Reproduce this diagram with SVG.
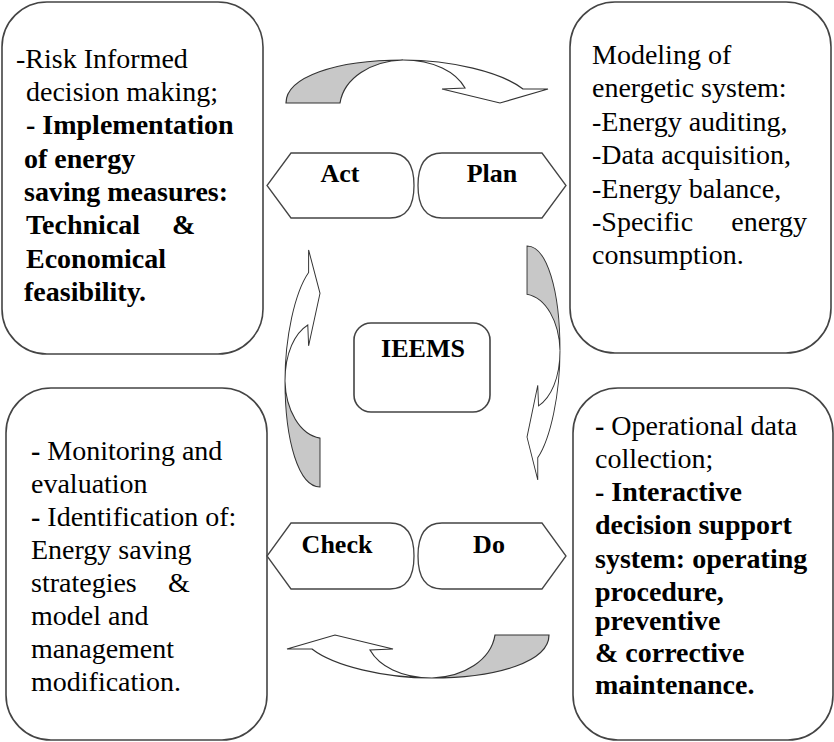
<svg xmlns="http://www.w3.org/2000/svg" xmlns:xlink="http://www.w3.org/1999/xlink" width="834" height="742" viewBox="0 0 834 742">
<style>
.box{fill:#fff;stroke:#444;stroke-width:1.6}
.shape{fill:#fff;stroke:#444;stroke-width:1.3}
.t{font-family:'Liberation Serif','Times New Roman',Times,'DejaVu Serif','Noto Serif',serif;font-size:28px;fill:#000}
.b{font-weight:bold}
.lbl{font-family:'Liberation Serif','Times New Roman',Times,'DejaVu Serif','Noto Serif',serif;font-size:26px;font-weight:bold;fill:#000;text-anchor:middle}
.ag{fill:#c8c8c8;stroke:#333;stroke-width:1.2;vector-effect:non-scaling-stroke}
.aw{fill:#fff;stroke:#333;stroke-width:1.2;vector-effect:non-scaling-stroke}
</style>
<defs>
<path id="gpart" d="M0,43 C0,17 50,0 117,0 C85,1 58,18 54,43 Z"/>
<path id="wpart" d="M117,0 C148,0 170,12 179,28 L156,29 L214,43 L262,29 L237,29 C215,12 165,0 117,0 Z"/>
</defs>
<rect width="834" height="742" fill="#fff"/>

<g id="connectors">
  <g id="arrow-act-plan" transform="translate(286,60)">
    <use xlink:href="#wpart" class="aw"/>
    <use xlink:href="#gpart" class="ag"/>
  </g>
  <g id="arrow-plan-do" transform="matrix(0,0.893,-0.767,0,560,246)">
    <use xlink:href="#wpart" class="aw"/>
    <use xlink:href="#gpart" class="ag"/>
  </g>
  <g id="arrow-do-check" transform="translate(549,678) rotate(180)">
    <use xlink:href="#wpart" class="aw"/>
    <use xlink:href="#gpart" class="ag"/>
  </g>
  <g id="arrow-check-act" transform="matrix(0,-0.905,0.814,0,285,487)">
    <use xlink:href="#wpart" class="aw"/>
    <use xlink:href="#gpart" class="ag"/>
  </g>
</g>

<g id="act-box">
  <rect class="box" x="2" y="2" width="261" height="352" rx="45"/>
  <text class="t" x="16" y="68">-Risk Informed</text>
  <text class="t" x="26" y="101">decision making;</text>
  <text class="t b" x="26" y="134">- Implementation</text>
  <text class="t b" x="24" y="168">of energy</text>
  <text class="t b" x="24" y="201">saving measures:</text>
  <text class="t b" x="26" y="234">Technical</text>
  <text class="t b" x="172" y="234">&amp;</text>
  <text class="t b" x="26" y="268">Economical</text>
  <text class="t b" x="24" y="301">feasibility.</text>
</g>

<g id="plan-box">
  <rect class="box" x="570" y="2" width="261" height="351" rx="45"/>
  <text class="t" x="592" y="64">Modeling of</text>
  <text class="t" x="592" y="97">energetic system:</text>
  <text class="t" x="592" y="131">-Energy auditing,</text>
  <text class="t" x="592" y="164">-Data acquisition,</text>
  <text class="t" x="592" y="198">-Energy balance,</text>
  <text class="t" x="592" y="231">-Specific</text>
  <text class="t" x="807" y="231" text-anchor="end">energy</text>
  <text class="t" x="592" y="264">consumption.</text>
</g>

<g id="check-box">
  <rect class="box" x="6" y="388" width="261" height="352" rx="45"/>
  <text class="t" x="31" y="460"><tspan class="b">-</tspan> Monitoring and</text>
  <text class="t" x="31" y="493">evaluation</text>
  <text class="t" x="31" y="526"><tspan class="b">-</tspan> Identification of:</text>
  <text class="t" x="31" y="559">Energy saving</text>
  <text class="t" x="31" y="592">strategies</text>
  <text class="t" x="168" y="592">&amp;</text>
  <text class="t" x="31" y="625">model and</text>
  <text class="t" x="31" y="658">management</text>
  <text class="t" x="31" y="691">modification.</text>
</g>

<g id="do-box">
  <rect class="box" x="573" y="388" width="260" height="352" rx="45"/>
  <text class="t" x="595" y="435"><tspan class="b">-</tspan> Operational data</text>
  <text class="t" x="595" y="468">collection;</text>
  <text class="t b" x="595" y="501">- Interactive</text>
  <text class="t b" x="595" y="534">decision support</text>
  <text class="t b" x="595" y="568">system: operating</text>
  <text class="t b" x="595" y="601">procedure,</text>
  <text class="t b" x="595" y="630">preventive</text>
  <text class="t b" x="595" y="662">&amp; corrective</text>
  <text class="t b" x="595" y="694">maintenance.</text>
</g>

<g id="act">
  <path class="shape" d="M291,153 L390,153 Q414,153 414,185.5 Q414,218 390,218 L291,218 L267,185.5 Z"/>
  <text class="lbl" x="340" y="182">Act</text>
</g>
<g id="plan">
  <path class="shape" d="M442,153 L542,153 L566,185.5 L542,218 L442,218 Q418,218 418,185.5 Q418,153 442,153 Z"/>
  <text class="lbl" x="492" y="182">Plan</text>
</g>
<g id="check">
  <path class="shape" d="M291,523 L390,523 Q414,523 414,556 Q414,589 390,589 L291,589 L267,556 Z"/>
  <text class="lbl" x="337" y="553">Check</text>
</g>
<g id="do">
  <path class="shape" d="M442,523 L542,523 L566,556 L542,589 L442,589 Q418,589 418,556 Q418,523 442,523 Z"/>
  <text class="lbl" x="489" y="553">Do</text>
</g>
<g id="ieems">
  <rect class="box" x="354" y="323" width="136" height="89" rx="17"/>
  <text class="lbl" x="423" y="357">IEEMS</text>
</g>
</svg>
